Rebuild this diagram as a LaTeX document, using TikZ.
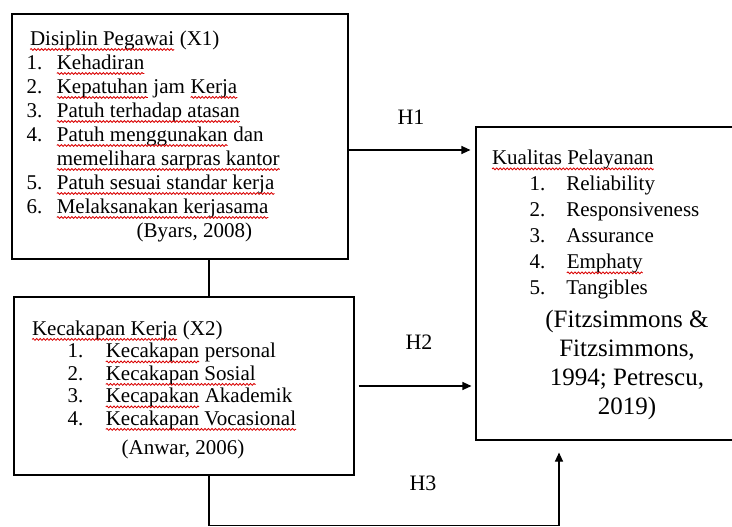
\documentclass[tikz,border=0pt]{standalone}
\usepackage{fontspec}
\setmainfont{Liberation Serif}
\usetikzlibrary{arrows.meta,decorations.pathmorphing}

% red spell-check wave under a word
\newcommand{\wavy}[1]{\tikz[baseline=(w.base)]{\node[inner sep=0pt,outer sep=0pt] (w) {#1};
  \draw[red!85!black,line width=0.85pt,decorate,decoration={snake,amplitude=0.9pt,segment length=3.5pt}]
    ([yshift=-4pt]w.base west) -- ([yshift=-4pt]w.base east);}}

\begin{document}
\begin{tikzpicture}[x=1pt,y=-1pt,
  box/.style={draw=black,line width=1.1pt,inner sep=0pt},
  lnk/.style={line width=1.1pt},
  arr/.style={line width=1.1pt,-{Triangle[length=9pt,width=8pt]}},
  txt/.style={inner sep=0pt,anchor=north west},
  hlab/.style={inner sep=0pt,font=\fontsize{22}{24}\selectfont}]
\useasboundingbox (0,0) rectangle (732,527);
\clip (0,0) rectangle (732,527);

% boxes
\node[box,minimum width=336pt,minimum height=245pt] (disiplin) at (180,136.5) {};
\node[box,minimum width=340pt,minimum height=178pt] (kecakapan) at (184,386) {};
\node[box,minimum width=302pt,minimum height=313pt] (kualitas) at (627,283.5) {};

% box texts
\node[txt,font=\fontsize{21}{24}\selectfont] (disiplintxt) at ([shift={(15,15)}]disiplin.north west) {%
\begin{tabular}{@{}l@{\hspace{14pt}}l@{}}
\multicolumn{2}{@{\hspace{3pt}}l@{}}{\wavy{Disiplin Pegawai} (X1)}\\
1. & \wavy{Kehadiran}\\
2. & \wavy{Kepatuhan} jam \wavy{Kerja}\\
3. & \wavy{Patuh terhadap atasan}\\
4. & \wavy{Patuh menggunakan} dan\\
   & \wavy{memelihara sarpras kantor}\\
5. & \wavy{Patuh sesuai standar kerja}\\
6. & \wavy{Melaksanakan kerjasama}\\
\multicolumn{2}{@{\hspace{110pt}}l@{}}{(Byars, 2008)}
\end{tabular}};

\node[txt,font=\fontsize{21}{22.5}\selectfont] (kecakapantxt) at ([shift={(18,23)}]kecakapan.north west) {%
\begin{tabular}{@{\hspace{36pt}}l@{\hspace{22pt}}l@{}}
\multicolumn{2}{@{}l@{}}{\wavy{Kecakapan Kerja} (X2)}\\
1. & \wavy{Kecakapan} personal\\
2. & \wavy{Kecakapan Sosial}\\
3. & \wavy{Kecapakan} Akademik\\
4. & \wavy{Kecakapan Vocasional}\\[7pt]
\multicolumn{2}{@{\hspace{90pt}}l@{}}{(Anwar, 2006)}
\end{tabular}};

\node[txt,font=\fontsize{21}{26}\selectfont] (kualitastxt) at ([shift={(16,20)}]kualitas.north west) {%
\begin{tabular}{@{\hspace{38pt}}l@{\hspace{21pt}}l@{}}
\multicolumn{2}{@{}l@{}}{\wavy{Kualitas Pelayanan}}\\
1. & Reliability\\
2. & Responsiveness\\
3. & Assurance\\
4. & \wavy{Emphaty}\\
5. & Tangibles
\end{tabular}};
\node[inner sep=0pt,anchor=north,font=\fontsize{25}{29}\selectfont] (sumber) at ([shift={(0,181)}]kualitas.north) {%
\begin{tabular}{@{}c@{}}
(Fitzsimmons \&\\
Fitzsimmons,\\
1994; Petrescu,\\
2019)
\end{tabular}};

% connectors
\coordinate (jalur) at (209,0);
\coordinate (h1) at (0,150);
\coordinate (h3) at (559,525.5);
\draw[lnk] (disiplin.south -| jalur) -- (kecakapan.north -| jalur);
\draw[arr,shorten >=5pt] (disiplin.east |- h1) -- (kualitas.west |- h1);
\draw[arr,shorten <=4pt,shorten >=4pt] (kecakapan.east) -- (kualitas.west |- kecakapan.east);
\draw[arr,shorten >=12pt] (kecakapan.south -| jalur) |- (h3) -- (kualitas.south -| h3);

% hypothesis labels
\node[hlab] (lab1) at (411,117) {H1};
\node[hlab] (lab2) at (419,342) {H2};
\node[hlab] (lab3) at (423,483) {H3};
\end{tikzpicture}
\end{document}
